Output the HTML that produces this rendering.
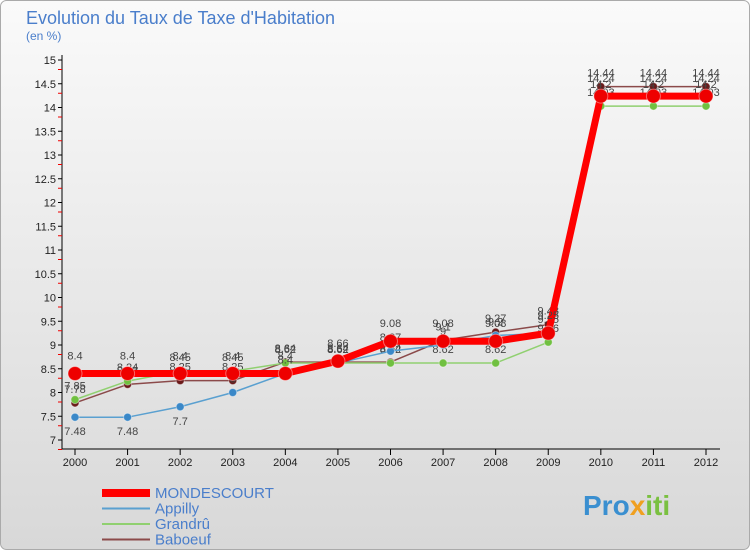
<!DOCTYPE html>
<html><head><meta charset="utf-8"><style>
body{margin:0;width:750px;height:550px;overflow:hidden;font-family:"Liberation Sans",sans-serif}
</style></head><body>
<svg width="750" height="550" xmlns="http://www.w3.org/2000/svg">
<defs><linearGradient id="bg" x1="0" y1="0" x2="0" y2="1"><stop offset="0" stop-color="#fafafa"/><stop offset="1" stop-color="#d8d8d8"/></linearGradient></defs>
<rect x="0.5" y="0.5" width="749" height="549" rx="6" fill="url(#bg)" stroke="#aaa"/>
<text x="26" y="24" font-size="18" fill="#4a7ecb">Evolution du Taux de Taxe d'Habitation</text>
<text x="26" y="40" font-size="12" fill="#4a7ecb">(en %)</text>
<g id="axes"></g><g id="series"></g><g id="legend"></g>
<text x="583" y="515" font-size="28" font-weight="bold" fill="#3a8fd0">Pro<tspan fill="#f0a020">x</tspan><tspan fill="#7ac040">iti</tspan></text>
</svg>
<script>
const years=[2000,2001,2002,2003,2004,2005,2006,2007,2008,2009,2010,2011,2012];
const yTicks=[7,7.5,8,8.5,9,9.5,10,10.5,11,11.5,12,12.5,13,13.5,14,14.5,15];
const seriesNames=["MONDESCOURT","Appilly","Grandrû","Baboeuf"];
const mondescourt=[8.4,8.4,8.4,8.4,8.4,8.66,9.08,9.08,9.08,9.25,14.24,14.24,14.24];
const appilly=[7.48,7.48,7.7,8.0,8.4,8.62,8.87,9.0,9.2,9.25,14.2,14.2,14.2];
const grandru=[7.85,8.24,8.45,8.45,8.62,8.62,8.62,8.62,8.62,9.06,14.03,14.03,14.03];
const baboeuf=[7.78,8.17,8.25,8.25,8.64,8.64,8.64,9.1,9.27,9.43,14.44,14.44,14.44];
const NS="http://www.w3.org/2000/svg";
const X=i=>75+i*(706-75)/12, Y=v=>60+(15-v)*47.5;
function mk(t,a,p){const e=document.createElementNS(NS,t);for(const k in a)e.setAttribute(k,a[k]);p.appendChild(e);return e;}
const ax=document.getElementById('axes');
mk('line',{x1:62,y1:55,x2:62,y2:449,stroke:'#000'},ax);
mk('line',{x1:62,y1:449,x2:720,y2:449,stroke:'#000'},ax);
yTicks.forEach(v=>{mk('line',{x1:58,y1:Y(v),x2:62,y2:Y(v),stroke:'#000'},ax);
mk('line',{x1:58,y1:Y(v)+9.5,x2:62,y2:Y(v)+9.5,stroke:'#e00'},ax);
const t=mk('text',{x:56,y:Y(v)+4,'font-size':11,'text-anchor':'end',fill:'#222'},ax);t.textContent=String(v);

});
years.forEach((y,i)=>{mk('line',{x1:X(i),y1:449,x2:X(i),y2:455,stroke:'#000'},ax);
const t=mk('text',{x:X(i),y:466,'font-size':11,'text-anchor':'middle',fill:'#222'},ax);t.textContent=y;

});
const sg=document.getElementById('series');
const defs=[[baboeuf,'#8b4a4a',1.5,'#6a1a1a',4],[grandru,'#90d070',1.5,'#70c040',4],[appilly,'#5aa0d0',1.5,'#3a88c8',4],[mondescourt,'#ff0000',7,'#ee0000',7]];
const names=['baboeuf','grandru','appilly','mondescourt'];
defs.forEach((d,si)=>{const g=mk('g',{},sg);


mk('polyline',{points:d[0].map((v,i)=>X(i)+','+Y(v)).join(' '),fill:'none',stroke:d[1],'stroke-width':d[2],'stroke-linejoin':'round'},g);
d[0].forEach((v,i)=>{const c=mk('circle',{cx:X(i),cy:Y(v),r:d[4],fill:d[3],stroke:'#fff','stroke-opacity':0.4},g);


const t=mk('text',{x:X(i),y:Y(v)-(si==2&&i<3?-18:(si==3?14:10)),'font-size':11,'text-anchor':'middle',fill:'#444'},g);t.textContent=String(v);

});});
const lg=document.getElementById('legend');
const lc=[['#ff0000',8],['#5aa0d0',2],['#90d070',2],['#8b4a4a',2]];
seriesNames.forEach((n,i)=>{const y=493+i*15.5;const g=mk('g',{},lg);


mk('line',{x1:102,y1:y,x2:150,y2:y,stroke:lc[i][0],'stroke-width':lc[i][1]},g);
const t=mk('text',{x:155,y:y+5,'font-size':15,fill:'#4a7ecb'},g);t.textContent=n;});
</script>
</body></html>
